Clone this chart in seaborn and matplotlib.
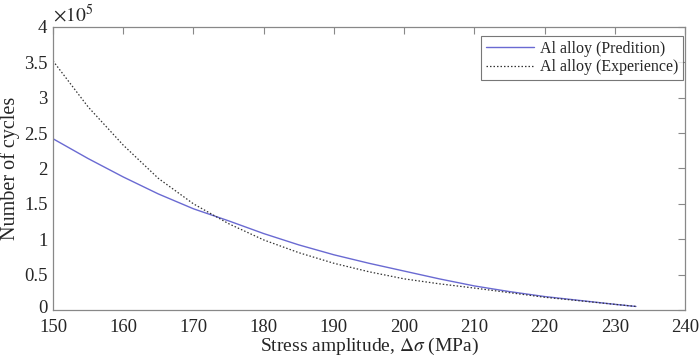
import numpy as np
import pandas as pd
import matplotlib
matplotlib.use("Agg")
import matplotlib.pyplot as plt
import matplotlib.transforms as mtransforms
import seaborn as sns
from matplotlib.ticker import FuncFormatter

# Data (number of cycles in units of 1e5)
stress = [150, 155, 160, 165, 170, 175, 180, 185, 190, 195, 200, 205, 210, 215, 220, 225, 230, 233]
pred_cycles = [2.42, 2.14, 1.88, 1.64, 1.43, 1.26, 1.08, 0.92, 0.78, 0.66, 0.55, 0.44, 0.34, 0.26, 0.19, 0.135, 0.08, 0.05]
exp_cycles = [3.52, 2.87, 2.33, 1.86, 1.50, 1.22, 0.99, 0.81, 0.66, 0.54, 0.44, 0.37, 0.31, 0.245, 0.18, 0.13, 0.08, 0.05]
xticks = [150, 160, 170, 180, 190, 200, 210, 220, 230, 240]
yticks = [0, 0.5, 1, 1.5, 2, 2.5, 3, 3.5, 4]

sns.set_theme(style="white")
plt.rcParams["font.family"] = ["Liberation Serif", "DejaVu Serif"]
plt.rcParams["mathtext.fontset"] = "stix"

df_pred = pd.DataFrame({"stress": stress, "cycles": pred_cycles})
df_exp = pd.DataFrame({"stress": stress, "cycles": exp_cycles})

fig = plt.figure(figsize=(7.0, 3.59), dpi=100)
ax = fig.add_axes([0.0757, 0.1365, 0.9030, 0.7885])

sns.lineplot(data=df_pred, x="stress", y="cycles", ax=ax, color="#6a6ad2",
             linewidth=1.0, label="Al alloy (Predition)")
sns.lineplot(data=df_exp, x="stress", y="cycles", ax=ax, color="#333333",
             linewidth=0.9, linestyle=(0, (1.2, 1.6)), label="Al alloy (Experience)")

ax.set_xlim(150, 240)
ax.set_ylim(0, 4)
ax.set_xticks(xticks)
ax.set_yticks(yticks)
ax.yaxis.set_major_formatter(FuncFormatter(lambda v, p: f"{v:g}"))
ax.tick_params(axis="both", which="both", direction="in", length=5, width=0.8,
               color="#888888", top=True, right=True, labelsize=13.5)
ax.tick_params(axis="x", pad=6.5)
ax.tick_params(axis="y", pad=4)
for s in ax.spines.values():
    s.set_color("#888888")
    s.set_linewidth(0.9)

# nudge the "0" y tick label up a little so it clears the "150" x label
lbl0 = ax.yaxis.get_major_ticks()[0].label1
lbl0.set_transform(lbl0.get_transform() + mtransforms.ScaledTranslation(0, 3 / 100, fig.dpi_scale_trans))

ax.set_xlabel(r"Stress amplitude, $\Delta\sigma$ (MPa)", fontsize=14, labelpad=0)
ax.set_ylabel("Number of cycles", fontsize=14.5, labelpad=3)
ax.text(0.0, 1.005, r"$\times 10^5$", transform=ax.transAxes, fontsize=14,
        ha="left", va="bottom")

leg = ax.legend(loc="upper right", bbox_to_anchor=(0.997, 0.968), fontsize=11.5,
                frameon=True, fancybox=False, edgecolor="#555555",
                handlelength=3.0, borderpad=0.3, labelspacing=0.15, handletextpad=0.4,
                borderaxespad=0.0)
leg.get_frame().set_linewidth(0.8)

fig.savefig("out.png", dpi=100)
